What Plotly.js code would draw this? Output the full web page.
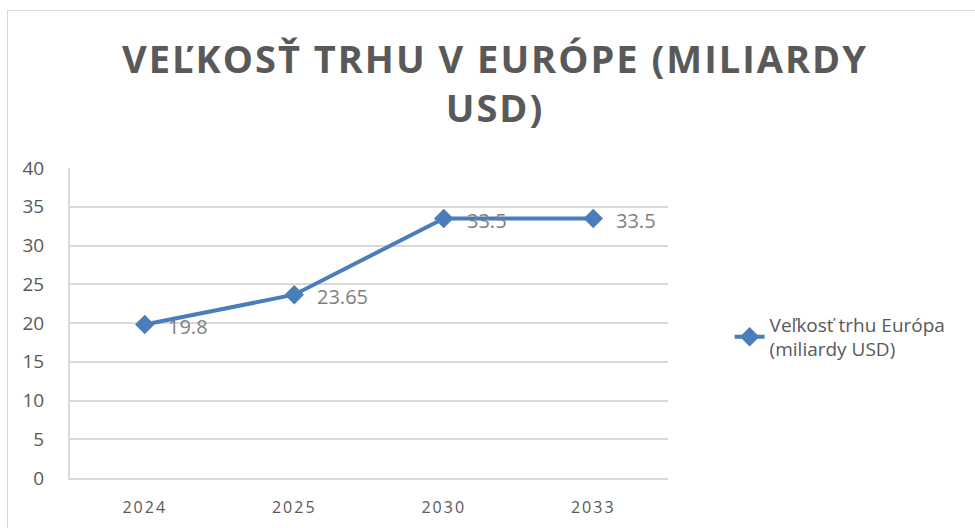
<!DOCTYPE html>
<html><head><meta charset="utf-8">
<script src="https://cdn.plot.ly/plotly-3.0.1.min.js"></script>
<style>
body{margin:0;padding:0;background:#fff;}
#frame{position:absolute;left:7px;top:10px;width:1000px;height:560px;border:1px solid #d9d9d9;box-sizing:border-box;pointer-events:none;z-index:5;}
#chart{position:absolute;left:0;top:0;width:975px;height:528px;}
.gtitle{letter-spacing:2px;}
.xtick text{letter-spacing:2px;}
</style></head>
<body>
<div id="chart"></div>
<div id="frame"></div>
<script>
const categories = ['2024','2025','2030','2033'];
const values = [19.8, 23.65, 33.5, 33.5];
const labels = ['19.8','23.65','33.5','33.5'];
const seriesName = 'Veľkosť trhu Európa<br>(miliardy USD)';
const titleText = 'VEĽKOSŤ TRHU V EURÓPE (MILIARDY<br>USD)';
const yTicks = [0,5,10,15,20,25,30,35,40];
const xIdx = categories.map((c,i)=>i);

const trace = {
  x: xIdx, y: values, type:'scatter', mode:'lines+markers',
  name: seriesName,
  line:{color:'#4a7ebb', width:4},
  marker:{symbol:'diamond', size:15, color:'#4a7ebb'},
  hoverinfo:'skip'
};
const annotations = xIdx.map((x,i)=>({
  x:x, y:values[i], xref:'x', yref:'y', text:labels[i], showarrow:false,
  xanchor:'left', yanchor:'middle', xshift:21, yshift:-2,
  font:{family:'Open Sans, sans-serif', size:20, color:'#7f7f7f'}
}));
const layout = {
  width:975, height:528,
  margin:{l:70, r:307, t:168, b:50},
  paper_bgcolor:'rgba(0,0,0,0)', plot_bgcolor:'#fff',
  title:{text:titleText, x:495/975, xref:'container', xanchor:'center',
         y:1-73/528, yref:'container', yanchor:'middle',
         font:{family:'Open Sans, sans-serif', size:38, color:'#595959', weight:'bold'}},
  xaxis:{range:[-0.5,3.5], tickvals:xIdx, ticktext:categories, showgrid:false,
         showline:true, linecolor:'#d9d9d9', linewidth:2, zeroline:false,
         ticks:'outside', ticklen:14, tickcolor:'rgba(0,0,0,0)',
         tickfont:{family:'Open Sans, sans-serif', size:16, color:'#595959'}, fixedrange:true},
  yaxis:{range:[0,40], tickvals:yTicks, showgrid:true, gridcolor:'#d9d9d9', gridwidth:2,
         showline:true, linecolor:'#d9d9d9', linewidth:2, zeroline:false,
         ticks:'outside', ticklen:20, tickcolor:'rgba(0,0,0,0)',
         tickfont:{family:'Open Sans, sans-serif', size:19, color:'#595959'}, fixedrange:true},
  showlegend:true,
  legend:{x:1.103, xanchor:'left', y:0.455, yanchor:'middle',
          font:{family:'Open Sans, sans-serif', size:19, color:'#595959'}, bgcolor:'rgba(0,0,0,0)'},
  annotations: annotations
};
Plotly.newPlot('chart',[trace],layout,{displayModeBar:false, staticPlot:true});
</script>
</body></html>
